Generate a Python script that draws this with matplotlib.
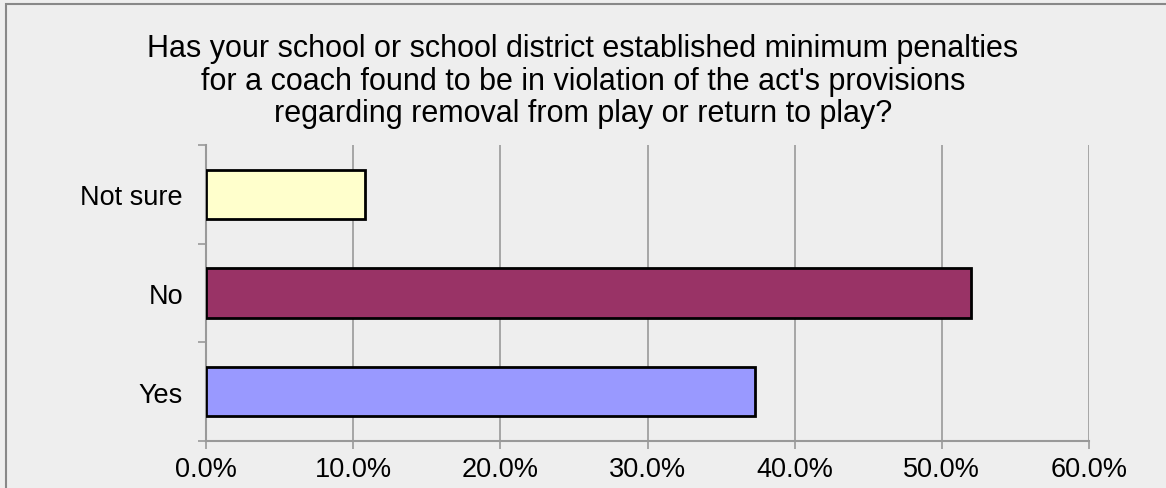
import matplotlib
matplotlib.use("Agg")
import matplotlib.pyplot as plt
from matplotlib.patches import Rectangle
from matplotlib.ticker import FixedLocator, FuncFormatter

CATEGORIES = ["Yes", "No", "Not sure"]
PERCENT = [37.3, 52.0, 10.8]
COLORS = ["#9999FF", "#993366", "#FFFFCC"]
X_TICKS = [0, 10, 20, 30, 40, 50, 60]
TITLE = ("Has your school or school district established minimum penalties\n"
         "for a coach found to be in violation of the act's provisions\n"
         "regarding removal from play or return to play?")

plt.rcParams["font.family"] = ["Liberation Sans", "DejaVu Sans"]
BG = "#EEEEEE"
GRID = "#999999"

fig = plt.figure(figsize=(11.66, 4.89), dpi=100, facecolor=BG)
ax = fig.add_axes([0.1767, 0.0961, 0.7573, 0.6053], facecolor=BG)

# outer chart frame (runs off the right/bottom edge)
fig.patches.append(Rectangle((5.5 / 1166, -0.1), 1.2, 1.1 - 4.5 / 489,
                             transform=fig.transFigure, fill=False,
                             edgecolor="#888888", linewidth=1.5, zorder=0))

ypos = list(range(len(CATEGORIES)))
ax.barh(ypos, PERCENT, height=0.5, color=COLORS, edgecolor="black",
        linewidth=2, zorder=3)

ax.set_xlim(0, 60)
ax.set_ylim(-0.5, len(CATEGORIES) - 0.5)
ax.xaxis.set_major_locator(FixedLocator(X_TICKS))
ax.xaxis.set_major_formatter(FuncFormatter(lambda v, p: f"{v:.1f}%"))
ax.grid(axis="x", color=GRID, linewidth=1.2, zorder=1)

ax.set_yticks(ypos)
ax.set_yticklabels(CATEGORIES)
ax.yaxis.set_minor_locator(FixedLocator([-0.5, 0.5, 1.5, 2.5]))
ax.tick_params(axis="y", which="major", length=0, pad=16.5, labelsize=19.5)
ax.tick_params(axis="y", which="minor", length=6, width=1.2, color=GRID)
ax.tick_params(axis="x", length=6, width=1.2, color=GRID, pad=5, labelsize=19.5)

for side in ("top", "right"):
    ax.spines[side].set_visible(False)
for side in ("left", "bottom"):
    ax.spines[side].set_color(GRID)
    ax.spines[side].set_linewidth(1.5)

fig.text(0.5, 0.93, TITLE, ha="center", va="top", fontsize=22,
         linespacing=1.1)

fig.savefig("out.png", dpi=100, facecolor=BG)
